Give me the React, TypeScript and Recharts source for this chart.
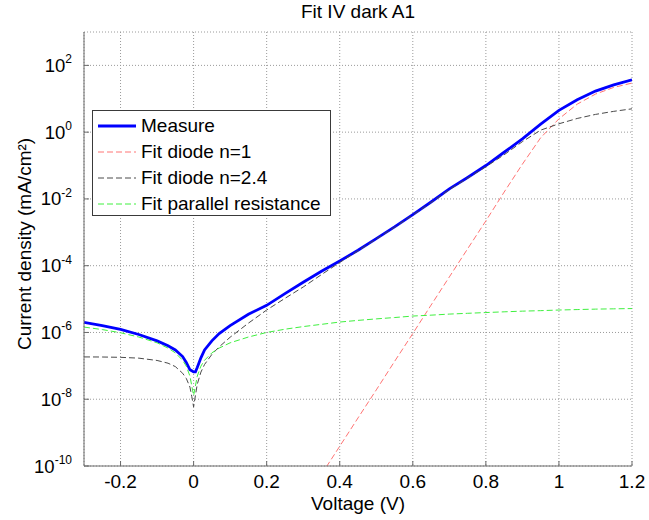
import { LineChart, Line, XAxis, YAxis, CartesianGrid, Legend } from "recharts";

// voltage sweep (V)
const voltage = [
  -0.3, -0.25, -0.2, -0.15, -0.1, -0.07, -0.05, -0.03, -0.02, -0.01, -0.005, 0,
  0.005, 0.01, 0.02, 0.03, 0.05, 0.07, 0.1, 0.15, 0.2, 0.25, 0.3, 0.35, 0.4,
  0.45, 0.5, 0.55, 0.6, 0.65, 0.7, 0.75, 0.8, 0.85, 0.9, 0.95, 1.0, 1.05, 1.1,
  1.15, 1.2,
];

// |J| in mA/cm²
const measure = [
  2.0e-6, 1.6e-6, 1.23e-6, 8.7e-7, 5.6e-7, 4.0e-7, 3.0e-7, 1.9e-7, 1.26e-7,
  7.6e-8, 7.1e-8, 6.6e-8, 6.6e-8, 8.9e-8, 1.74e-7, 3.0e-7, 5.6e-7, 9.3e-7,
  1.6e-6, 3.5e-6, 6.5e-6, 1.45e-5, 3.2e-5, 6.8e-5, 1.38e-4, 2.9e-4, 6.5e-4,
  1.45e-3, 3.4e-3, 8.1e-3, 0.02, 0.044, 0.1, 0.25, 0.63, 1.74, 4.5, 9.3, 17,
  26, 37,
];

const diodeN1 = [
  null, null, null, null, null, null, null, null, null, null, null, null, null,
  null, null, null, null, null, null, null, null, null, null, 5.6e-11, 3.9e-10,
  2.75e-9, 1.9e-8, 1.35e-7, 9.3e-7, 6.6e-6, 4.6e-5, 3.2e-4, 2.2e-3, 0.016,
  0.11, 0.68, 2.5, 6.9, 13.8, 21.9, 29.5,
];

const diodeN24 = [
  1.85e-7, 1.84e-7, 1.8e-7, 1.7e-7, 1.45e-7, 1.2e-7, 9.5e-8, 6.0e-8, 4.2e-8,
  2.3e-8, 1.2e-8, 5.9e-9, 1.3e-8, 2.8e-8, 6.5e-8, 1.1e-7, 2.2e-7, 3.7e-7,
  7.2e-7, 1.9e-6, 4.7e-6, 1.05e-5, 2.3e-5, 5.4e-5, 1.25e-4, 2.8e-4, 6.3e-4,
  1.42e-3, 3.3e-3, 7.8e-3, 0.019, 0.042, 0.092, 0.21, 0.52, 1.15, 1.78, 2.57,
  3.4, 4.2, 5.0,
];

const parallelR = [
  1.45e-6, 1.22e-6, 9.8e-7, 7.3e-7, 4.9e-7, 3.4e-7, 2.45e-7, 1.47e-7, 9.8e-8,
  4.9e-8, 2.5e-8, 1.3e-8, 2.5e-8, 4.9e-8, 9.8e-8, 1.47e-7, 2.45e-7, 3.4e-7,
  4.9e-7, 7.3e-7, 1.0e-6, 1.25e-6, 1.5e-6, 1.75e-6, 2.05e-6, 2.3e-6, 2.55e-6,
  2.8e-6, 3.1e-6, 3.3e-6, 3.55e-6, 3.75e-6, 3.95e-6, 4.15e-6, 4.35e-6, 4.5e-6,
  4.7e-6, 4.85e-6, 5.0e-6, 5.1e-6, 5.2e-6,
];

const xTicks = [-0.2, 0, 0.2, 0.4, 0.6, 0.8, 1, 1.2];
const yTicks = [1e-10, 1e-8, 1e-6, 1e-4, 1e-2, 1, 1e2];

const series = [
  { key: "measure", label: "Measure", color: "#0000ff", width: 2.8, dash: undefined },
  { key: "n1", label: "Fit diode n=1", color: "#ff7474", width: 1, dash: "6 3" },
  { key: "n24", label: "Fit diode n=2.4", color: "#4a4a4a", width: 1, dash: "6 3" },
  { key: "rp", label: "Fit parallel resistance", color: "#3ff03f", width: 1, dash: "6 3" },
];

const data = voltage.map((v, i) => ({
  v,
  measure: measure[i],
  n1: diodeN1[i],
  n24: diodeN24[i],
  rp: parallelR[i],
}));

const FONT = 'Arial, "Liberation Sans", Helvetica, sans-serif';
const AXIS = "#6a6a6a";

const XTick = ({ x, y, payload }: any) => (
  <g>
    <line x1={x} y1={y} x2={x} y2={y - 5} stroke={AXIS} />
    <text x={x} y={y + 22} textAnchor="middle" fontSize={19} fontFamily={FONT} fill="#000">
      {String(payload.value)}
    </text>
  </g>
);

const YTick = ({ x, y, payload }: any) => {
  const exp = Math.round(Math.log10(payload.value));
  return (
    <g>
      <line x1={x} y1={y} x2={x + 5} y2={y} stroke={AXIS} />
      <text x={x - 12} y={y + 6.5} textAnchor="end" fontSize={18.5} fontFamily={FONT} fill="#000">
        <tspan>10</tspan>
        <tspan dy={-8.5} fontSize={12}>{exp}</tspan>
      </text>
    </g>
  );
};

const XLabel = () => (
  <text x={358} y={510} textAnchor="middle" fontSize={19} fontFamily={FONT} fill="#000">
    Voltage (V)
  </text>
);

// y-axis title plus the chart title, both drawn in the svg
const YLabel = () => (
  <g>
    <text x={358} y={18} textAnchor="middle" fontSize={19} fontFamily={FONT} fill="#000">
      Fit IV dark A1
    </text>
    <text
      transform="translate(31,244) rotate(-90)"
      textAnchor="middle"
      fontSize={19}
      fontFamily={FONT}
      fill="#000"
    >
      Current density (mA/cm²)
    </text>
  </g>
);

const FitLegend = () => (
  <div
    style={{
      width: 239,
      height: 106,
      boxSizing: "border-box",
      border: "1px solid #3a3a3a",
      background: "#fff",
      paddingTop: 2,
      fontFamily: FONT,
      fontSize: 19,
      color: "#000",
    }}
  >
    {series.map((s) => (
      <div key={s.key} style={{ height: 26, display: "flex", alignItems: "center" }}>
        <svg width={48} height={26} style={{ flexShrink: 0 }}>
          <line
            x1={5}
            y1={13}
            x2={43}
            y2={13}
            stroke={s.color}
            strokeWidth={s.width}
            strokeDasharray={s.dash}
          />
        </svg>
        <span style={{ whiteSpace: "nowrap", lineHeight: "26px" }}>{s.label}</span>
      </div>
    ))}
  </div>
);

export default function App() {
  return (
    <div
      style={{
        position: "absolute",
        left: 0,
        top: 0,
        width: 649,
        height: 520,
        background: "#fff",
        overflow: "hidden",
      }}
    >
      <LineChart
        width={649}
        height={520}
        data={data}
        margin={{ top: 32, right: 17, bottom: 0, left: 0 }}
      >
        <CartesianGrid stroke="#9a9a9a" strokeDasharray="1 2" />
        <XAxis
          dataKey="v"
          type="number"
          domain={[-0.3, 1.2]}
          ticks={xTicks}
          interval={0}
          allowDataOverflow
          height={54}
          axisLine={{ stroke: AXIS }}
          tickLine={false}
          tickSize={0}
          tickMargin={0}
          tick={<XTick />}
          label={<XLabel />}
        />
        <YAxis
          type="number"
          scale="log"
          domain={[1e-10, 1e3]}
          ticks={yTicks}
          interval={0}
          allowDataOverflow
          width={84}
          axisLine={{ stroke: AXIS }}
          tickLine={false}
          tickSize={0}
          tickMargin={0}
          tick={<YTick />}
          label={<YLabel />}
        />
        <Legend
          layout="horizontal"
          verticalAlign="middle"
          align="center"
          content={<FitLegend />}
          wrapperStyle={{ position: "absolute", left: 92, top: 110, width: 239, height: 106 }}
        />
        {series.map((s) => (
          <Line
            key={s.key}
            dataKey={s.key}
            type="linear"
            stroke={s.color}
            strokeWidth={s.width}
            strokeDasharray={s.dash}
            dot={false}
            activeDot={false}
            isAnimationActive={false}
          />
        ))}
      </LineChart>
    </div>
  );
}
